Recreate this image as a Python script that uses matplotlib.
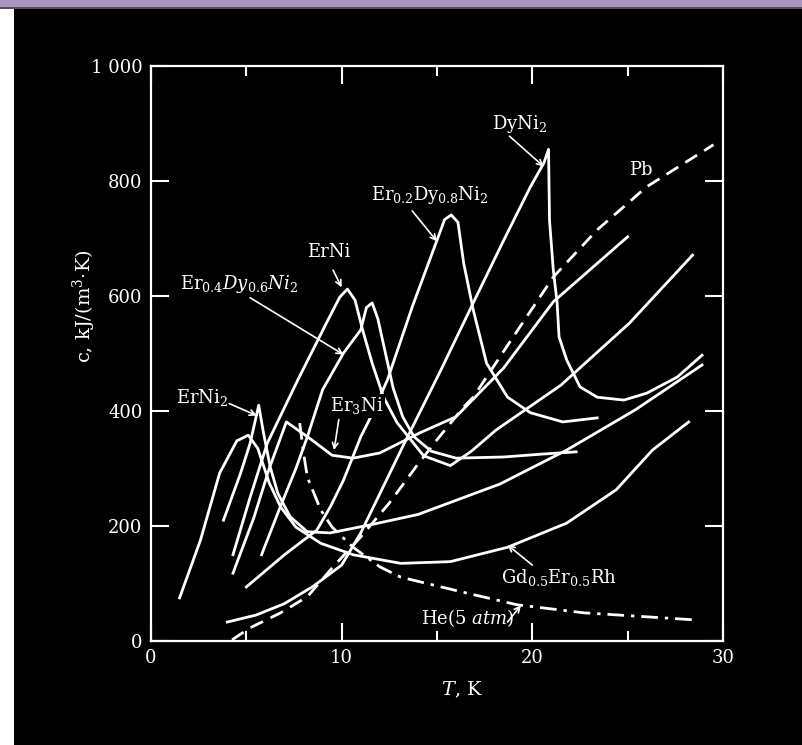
import matplotlib
matplotlib.use("Agg")
import matplotlib.pyplot as plt
from matplotlib.patches import Rectangle
from matplotlib.ticker import MultipleLocator, FixedLocator

plt.rcParams['font.family'] = ['DejaVu Serif']
plt.rcParams['mathtext.fontset'] = 'dejavuserif'

# ---- data (T in K, c in kJ/(m^3 K)) ----
gd_T = [1.5, 2.6, 3.6, 4.5, 5.1, 5.6, 6.2, 6.8, 7.6, 8.9, 10.6, 13.1, 15.7, 18.7, 21.8, 24.4, 26.3, 28.2]
gd_c = [75, 176, 292, 348, 358, 335, 275, 233, 198, 170, 150, 135, 138, 163, 205, 263, 332, 381]

erni2_T = [3.8, 4.7, 5.2, 5.65, 5.9, 6.25, 6.65, 7.3, 8.2, 9.4, 11.5, 14.0, 18.3, 21.8, 25.4, 28.9]
erni2_c = [210, 292, 344, 410, 362, 303, 257, 216, 190, 188, 202, 220, 273, 332, 402, 480]

er3ni_T = [4.3, 5.4, 6.2, 7.1, 8.3, 9.5, 10.6, 12.0, 14.1, 16.0, 18.5, 21.1, 25.0]
er3ni_c = [118, 215, 300, 381, 353, 323, 318, 327, 362, 390, 475, 590, 703]

erni_T = [4.3, 5.2, 6.1, 7.7, 9.2, 9.9, 10.3, 10.7, 11.1, 11.6, 12.2, 12.9, 14.3, 15.7, 16.8, 18.1, 21.5, 25.1, 28.4]
erni_c = [150, 250, 344, 454, 553, 598, 612, 593, 541, 483, 424, 380, 322, 305, 330, 367, 445, 553, 671]

er4_T = [5.8, 6.8, 7.6, 8.2, 9.0, 10.1, 11.0, 11.3, 11.6, 11.9, 12.3, 12.7, 13.2, 13.8, 14.7, 16.0, 18.5, 20.5, 22.3]
er4_c = [150, 235, 300, 355, 437, 501, 541, 580, 588, 560, 500, 440, 390, 355, 330, 318, 320, 325, 329]

er2_T = [5.0, 7.0, 8.7, 9.4, 10.1, 11.0, 11.5, 12.4, 13.7, 15.0, 15.4, 15.75, 16.1, 16.4, 16.9, 17.6, 18.7, 19.9, 21.6, 23.4]
er2_c = [94, 150, 193, 233, 280, 355, 388, 454, 581, 697, 733, 741, 728, 657, 576, 483, 424, 397, 381, 388]

dy_T = [4.0, 5.5, 7.0, 8.5, 10.0, 11.0, 12.0, 13.2, 15.2, 16.9, 18.5, 19.9, 20.6, 20.85, 20.9, 21.1, 21.3, 21.4, 21.8, 22.5, 23.4, 24.8, 26.0, 27.6, 28.9]
dy_c = [33, 45, 65, 95, 132, 188, 256, 338, 471, 588, 697, 790, 831, 855, 732, 645, 588, 529, 489, 442, 424, 419, 431, 459, 497]

pb_T = [4.25, 5.2, 6.8, 8.2, 9.55, 11.0, 12.5, 13.9, 15.0, 16.4, 16.9, 19.0, 21.1, 23.4, 26.0, 29.5]
pb_c = [2, 23, 49, 77, 129, 181, 240, 303, 350, 407, 424, 529, 633, 715, 790, 863]

he_T = [7.8, 8.0, 8.2, 8.9, 9.5, 10.6, 12.0, 13.1, 16.6, 19.2, 22.7, 28.4]
he_c = [379, 327, 285, 228, 198, 163, 129, 111, 83, 63, 49, 37]

x_ticks = [0, 10, 20, 30]
y_ticks = [0, 200, 400, 600, 800, 1000]
y_ticklabels = ["0", "200", "400", "600", "800", "1 000"]

# ---- figure ----
W, H = 803, 745
fig = plt.figure(figsize=(W / 100, H / 100), dpi=100, facecolor='black')
fig.patches.append(Rectangle((0, 1 - 7 / H), 1, 7 / H, transform=fig.transFigure,
                             facecolor='#A996BE', edgecolor='none', zorder=0))
fig.patches.append(Rectangle((0, 1 - 8.5 / H), 1, 1.5 / H, transform=fig.transFigure,
                             facecolor='#555060', edgecolor='none', zorder=0))
fig.patches.append(Rectangle((0, 0), 14 / W, 1 - 9 / H, transform=fig.transFigure,
                             facecolor='white', edgecolor='none', zorder=0))

ax = fig.add_axes([151 / W, (H - 641) / H, (723 - 151) / W, (641 - 66) / H])
ax.set_facecolor('black')
ax.set_xlim(0, 30)
ax.set_ylim(0, 1000)
for s in ax.spines.values():
    s.set_color('white')
    s.set_linewidth(1.6)

lw = 2.0
ax.plot(gd_T, gd_c, color='white', lw=lw)
ax.plot(erni2_T, erni2_c, color='white', lw=lw)
ax.plot(er3ni_T, er3ni_c, color='white', lw=lw)
ax.plot(erni_T, erni_c, color='white', lw=lw)
ax.plot(er4_T, er4_c, color='white', lw=lw)
ax.plot(er2_T, er2_c, color='white', lw=lw)
ax.plot(dy_T, dy_c, color='white', lw=lw)
ax.plot(pb_T, pb_c, color='white', lw=lw, dashes=(5, 3))
ax.plot(he_T, he_c, color='white', lw=lw, dashes=(6, 2.5, 1.2, 2.5))

ax.xaxis.set_major_locator(FixedLocator(x_ticks))
ax.xaxis.set_minor_locator(MultipleLocator(5))
ax.yaxis.set_major_locator(FixedLocator(y_ticks))
ax.set_xticklabels([str(v) for v in x_ticks])
ax.set_yticklabels(y_ticklabels)
ax.tick_params(which='both', direction='in', colors='white', top=True, right=True,
               width=1.5, labelsize=13, labelcolor='white')
ax.tick_params(which='major', length=13, pad=6)
ax.tick_params(which='minor', length=7)

fig.text(462 / W, 1 - 690 / H, '$T$, K', color='white', fontsize=14, ha='center', va='center')
fig.text(84 / W, 1 - 306 / H, 'c, kJ/(m$^3$·K)', color='white', fontsize=14,
         rotation=90, ha='center', va='center')

tk = dict(color='white', fontsize=13, ha='center', va='center')
ap = dict(arrowstyle='->', color='white', lw=1.2, shrinkA=0, shrinkB=0)

def lab(text, pos, tip=None, start=None, **kw):
    d = dict(tk)
    d.update(kw)
    ax.text(pos[0], pos[1], text, **d)
    if tip is not None:
        ax.annotate('', xy=tip, xytext=start, arrowprops=ap)

lab('DyNi$_2$', (19.35, 899), (20.6, 825), (18.8, 878))
lab('Er$_{0.2}$Dy$_{0.8}$Ni$_2$', (14.6, 776), (15.0, 695), (13.7, 748))
lab('Pb', (25.7, 819))
lab('ErNi', (9.3, 677), (10.0, 615), (9.55, 645))
lab(r'Er$_{0.4}\mathit{Dy}_{0.6}\mathit{Ni}_2$', (4.6, 621), (10.1, 498), (5.2, 597))
lab('ErNi$_2$', (2.7, 423), (5.55, 392), (4.1, 413))
lab('Er$_3$Ni', (10.8, 409), (9.6, 332), (9.85, 385),
    bbox=dict(facecolor='black', edgecolor='none', pad=1))
lab('Gd$_{0.5}$Er$_{0.5}$Rh', (21.4, 111), (18.7, 167), (20.0, 132))
lab(r'He(5 $\mathit{atm}$)', (16.6, 40), (19.4, 62), (18.7, 33))

fig.savefig('out.png', dpi=100, facecolor='black')
